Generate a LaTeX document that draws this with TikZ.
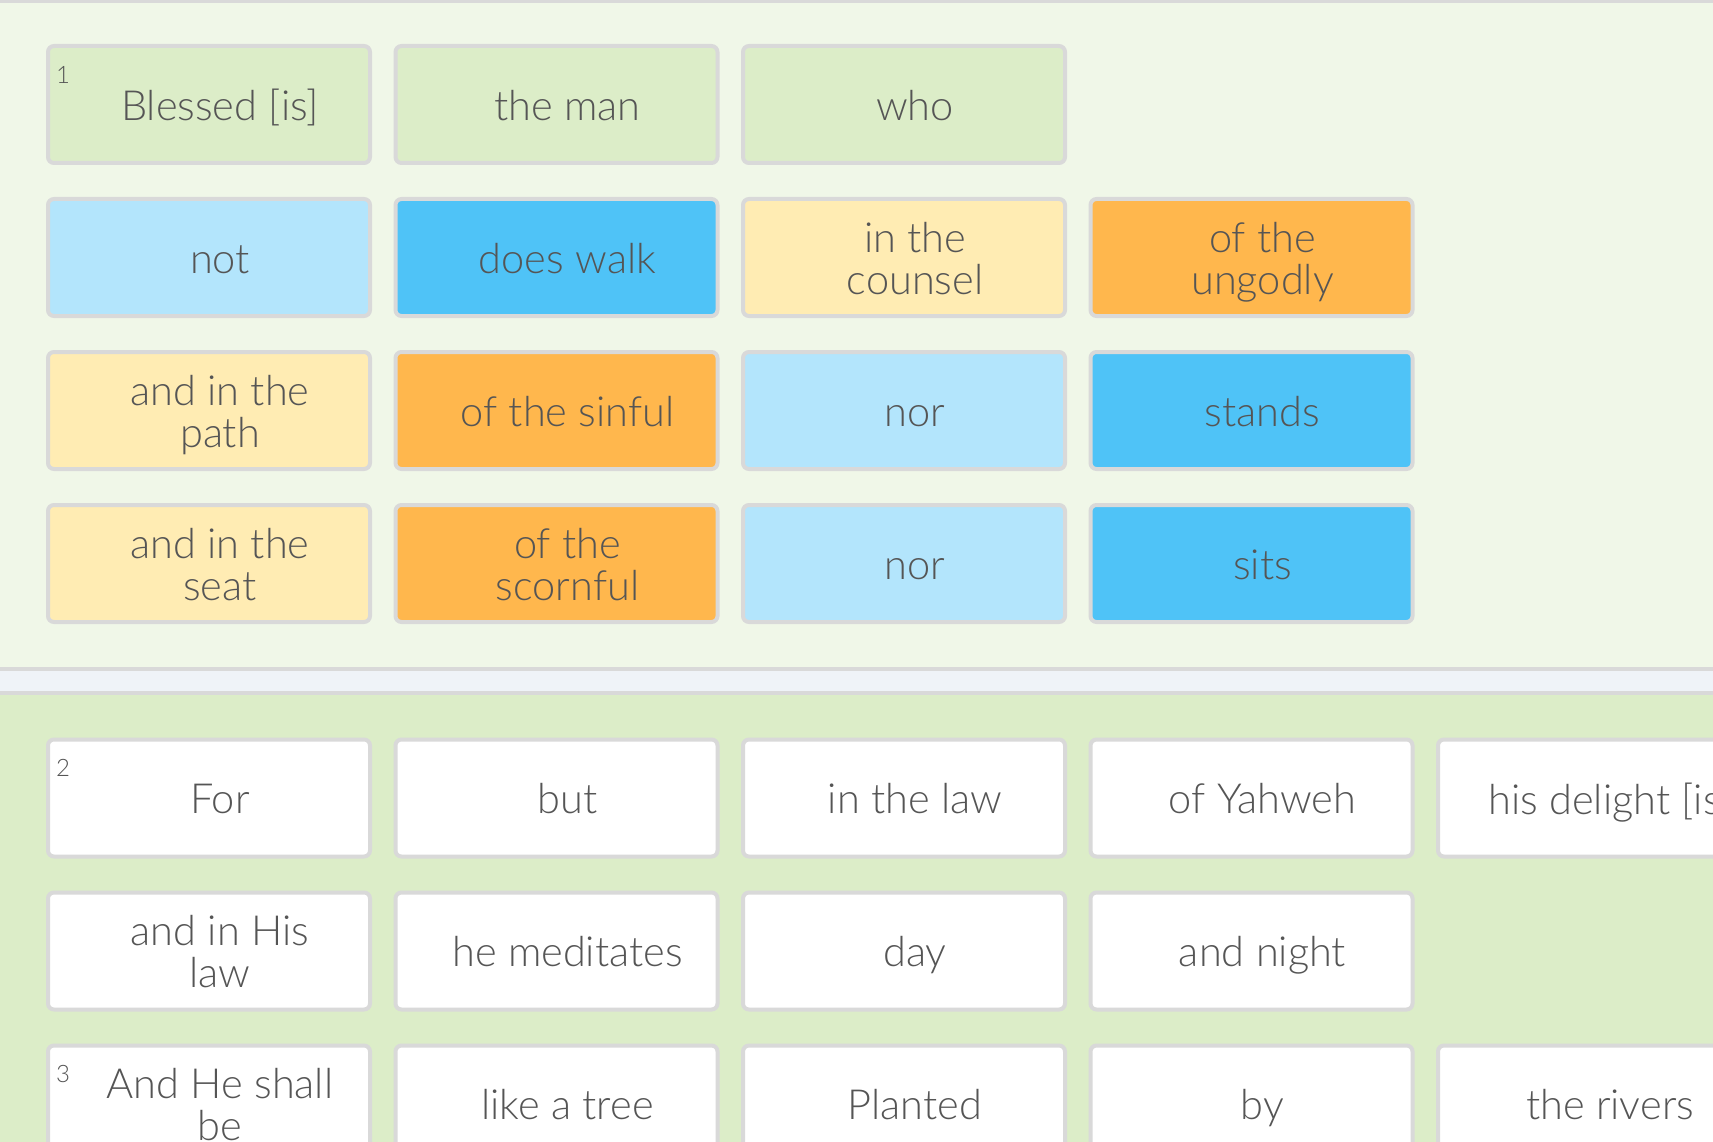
\documentclass[tikz,border=0pt]{standalone}
\usepackage{fontspec}
\setmainfont{Lato Light}
\definecolor{topbg}{HTML}{F0F7E8}
\definecolor{botbg}{HTML}{DCEDC8}
\definecolor{lgreen}{HTML}{DCEDC8}
\definecolor{lblue}{HTML}{B3E5FC}
\definecolor{dblue}{HTML}{4FC3F7}
\definecolor{lyellow}{HTML}{FFECB3}
\definecolor{lorange}{HTML}{FFB74D}
\definecolor{bordergrey}{HTML}{D9D9D9}
\definecolor{bandcol}{HTML}{EFF3F8}
\definecolor{textgrey}{HTML}{555555}
\tikzset{
  wbox/.style={draw=bordergrey, line width=4pt, rounded corners=6pt,
    minimum width=322pt, minimum height=117pt, inner sep=0pt},
  greenbox/.style={wbox, fill=lgreen},
  lbluebox/.style={wbox, fill=lblue},
  dbluebox/.style={wbox, fill=dblue},
  yellowbox/.style={wbox, fill=lyellow},
  orangebox/.style={wbox, fill=lorange},
  whitebox/.style={wbox, fill=white},
  boxtext/.style={text=textgrey, font=\fontsize{41.5}{42}\selectfont, align=center, inner sep=0pt},
  numlab/.style={text=textgrey, font=\fontsize{24}{24}\selectfont, inner sep=0pt, anchor=north west}
}
% #1 style, #2 name, #3 position, #4 text
\newcommand\wordbox[4]{%
  \node[#1] (#2) at (#3) {};
  \node[boxtext] (#2t) at ([xshift=11pt,yshift=-4.5pt]#2.center) {\vphantom{Ah}#4\vphantom{g}};}
\begin{document}
\begin{tikzpicture}[x=1pt,y=-1pt]
\useasboundingbox (0,0) rectangle (1713,1142);
\clip (0,0) rectangle (1713,1142);
% backgrounds
\fill[topbg] (0,0) rectangle (1713,667);
\fill[bordergrey] (0,0) rectangle (1713,3);
\fill[bordergrey] (0,667) rectangle (1713,695);
\fill[bandcol] (0,671) rectangle (1713,691);
\fill[botbg] (0,695) rectangle (1713,1142);
% section 1
\wordbox{greenbox}{b11}{209,104.5}{Blessed [is]}
\wordbox{greenbox}{b12}{556.5,104.5}{the man}
\wordbox{greenbox}{b13}{904,104.5}{who}
\wordbox{lbluebox}{b21}{209,257.5}{not}
\wordbox{dbluebox}{b22}{556.5,257.5}{does walk}
\wordbox{yellowbox}{b23}{904,257.5}{in the\\counsel}
\wordbox{orangebox}{b24}{1251.5,257.5}{of the\\ungodly}
\wordbox{yellowbox}{b31}{209,410.5}{and in the\\path}
\wordbox{orangebox}{b32}{556.5,410.5}{of the sinful}
\wordbox{lbluebox}{b33}{904,410.5}{nor}
\wordbox{dbluebox}{b34}{1251.5,410.5}{stands}
\wordbox{yellowbox}{b41}{209,563.5}{and in the\\seat}
\wordbox{orangebox}{b42}{556.5,563.5}{of the\\scornful}
\wordbox{lbluebox}{b43}{904,563.5}{nor}
\wordbox{dbluebox}{b44}{1251.5,563.5}{sits}
\node[numlab] (n1) at ([xshift=10pt,yshift=-22pt]b11.north west) {1};
% section 2
\wordbox{whitebox}{c11}{209,798}{For}
\wordbox{whitebox}{c12}{556.5,798}{but}
\wordbox{whitebox}{c13}{904,798}{in the law}
\wordbox{whitebox}{c14}{1251.5,798}{of Yahweh}
\wordbox{whitebox}{c15}{1599,798}{his delight [is]}
\wordbox{whitebox}{c21}{209,951}{and in His\\law}
\wordbox{whitebox}{c22}{556.5,951}{he meditates}
\wordbox{whitebox}{c23}{904,951}{day}
\wordbox{whitebox}{c24}{1251.5,951}{and night}
\wordbox{whitebox}{c31}{209,1104}{And He shall\\be}
\wordbox{whitebox}{c32}{556.5,1104}{like a tree}
\wordbox{whitebox}{c33}{904,1104}{Planted}
\wordbox{whitebox}{c34}{1251.5,1104}{by}
\wordbox{whitebox}{c35}{1599,1104}{the rivers}
\node[numlab] (n2) at ([xshift=10pt,yshift=-22pt]c11.north west) {2};
\node[numlab] (n3) at ([xshift=10pt,yshift=-22pt]c31.north west) {3};
\end{tikzpicture}
\end{document}
